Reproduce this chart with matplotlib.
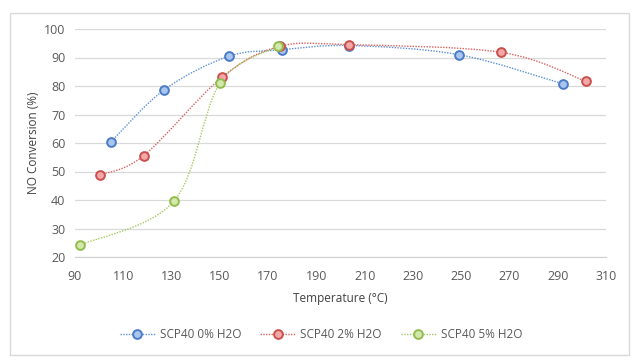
import matplotlib.pyplot as plt
from matplotlib.path import Path
from matplotlib.patches import PathPatch, Rectangle
from matplotlib.lines import Line2D
import numpy as np

# data
temp_0 = [105, 127, 153.6, 175.6, 203.6, 249, 292]
conv_0 = [60.5, 78.7, 90.4, 92.7, 94.2, 91.0, 80.8]

temp_2 = [100.4, 118.4, 150.8, 174.8, 203.6, 266.7, 301.8]
conv_2 = [48.8, 55.5, 83.0, 93.9, 94.5, 91.8, 81.6]

temp_5 = [92, 130.9, 150.1, 174.3]
conv_5 = [24.2, 39.5, 81.1, 93.9]

labels = ['SCP40 0% H2O', 'SCP40 2% H2O', 'SCP40 5% H2O']
edge_colors = ['#4a7bc8', '#c9504d', '#92bc4c']
face_colors = ['#a9c6ee', '#f2a8a8', '#d3e8ad']
line_colors = ['#5b8fd6', '#d9625f', '#a5c861']


def smooth_path(xs, ys):
    # Excel-like smoothed line: cubic bezier through the points
    pts = np.column_stack([xs, ys])
    verts = [pts[0]]
    codes = [Path.MOVETO]
    n = len(pts)
    for i in range(n - 1):
        p0 = pts[i - 1] if i > 0 else pts[i]
        p1 = pts[i]
        p2 = pts[i + 1]
        p3 = pts[i + 2] if i + 2 < n else pts[i + 1]
        c1 = p1 + (p2 - p0) / 6.0
        c2 = p2 - (p3 - p1) / 6.0
        verts += [c1, c2, p2]
        codes += [Path.CURVE4] * 3
    return Path(verts, codes)


fig = plt.figure(figsize=(6.42, 3.64), dpi=100)
plt.rcParams['font.family'] = ['Open Sans', 'DejaVu Sans']

# light border around the chart
fig.patches.append(Rectangle((10 / 642, 9 / 364), 619 / 642, 342 / 364,
                             transform=fig.transFigure, fill=False,
                             edgecolor='#d9d9d9', linewidth=1.0))

ax = fig.add_axes([75 / 642, 1 - 257 / 364, 531 / 642, 228 / 364])

series = [(temp_0, conv_0), (temp_2, conv_2), (temp_5, conv_5)]
for (xs, ys), ec, fc, lc in zip(series, edge_colors, face_colors, line_colors):
    patch = PathPatch(smooth_path(xs, ys), fill=False, edgecolor=lc,
                      linestyle=(0, (1, 1)), linewidth=1.0, zorder=2)
    ax.add_patch(patch)
    ax.plot(xs, ys, linestyle='none', marker='o', markersize=6.3,
            markerfacecolor=fc, markeredgecolor=ec, markeredgewidth=1.4,
            zorder=3)

ax.set_xlim(90, 310)
ax.set_ylim(20, 100)
ax.set_xticks(np.arange(90, 311, 20))
ax.set_yticks(np.arange(20, 101, 10))
ax.yaxis.grid(True, color='#d9d9d9', linewidth=0.9)
ax.set_axisbelow(True)
for s in ['left', 'right', 'top']:
    ax.spines[s].set_visible(False)
ax.spines['bottom'].set_color('#d0d0d0')
ax.tick_params(axis='both', length=0, labelsize=9, colors='#595959', pad=7)
ax.tick_params(axis='x', pad=9)

ax.set_xlabel('Temperature (°C)', fontsize=8.5, color='#404040', labelpad=7)
ax.set_ylabel('NO Conversion (%)', fontsize=8.5, color='#404040', labelpad=3)

handles = [Line2D([0], [0], color=lc, linestyle=(0, (1, 1)), linewidth=1.0,
                  marker='o', markersize=6.3, markerfacecolor=fc,
                  markeredgecolor=ec, markeredgewidth=1.4)
           for ec, fc, lc in zip(edge_colors, face_colors, line_colors)]
fig.legend(handles, labels, loc='center', bbox_to_anchor=(0.5, 1 - 335 / 364),
           ncol=3, frameon=False, fontsize=8.5, labelcolor='#595959',
           handlelength=3.0, columnspacing=1.6, handletextpad=0.4)

fig.savefig('out.png', dpi=100)
